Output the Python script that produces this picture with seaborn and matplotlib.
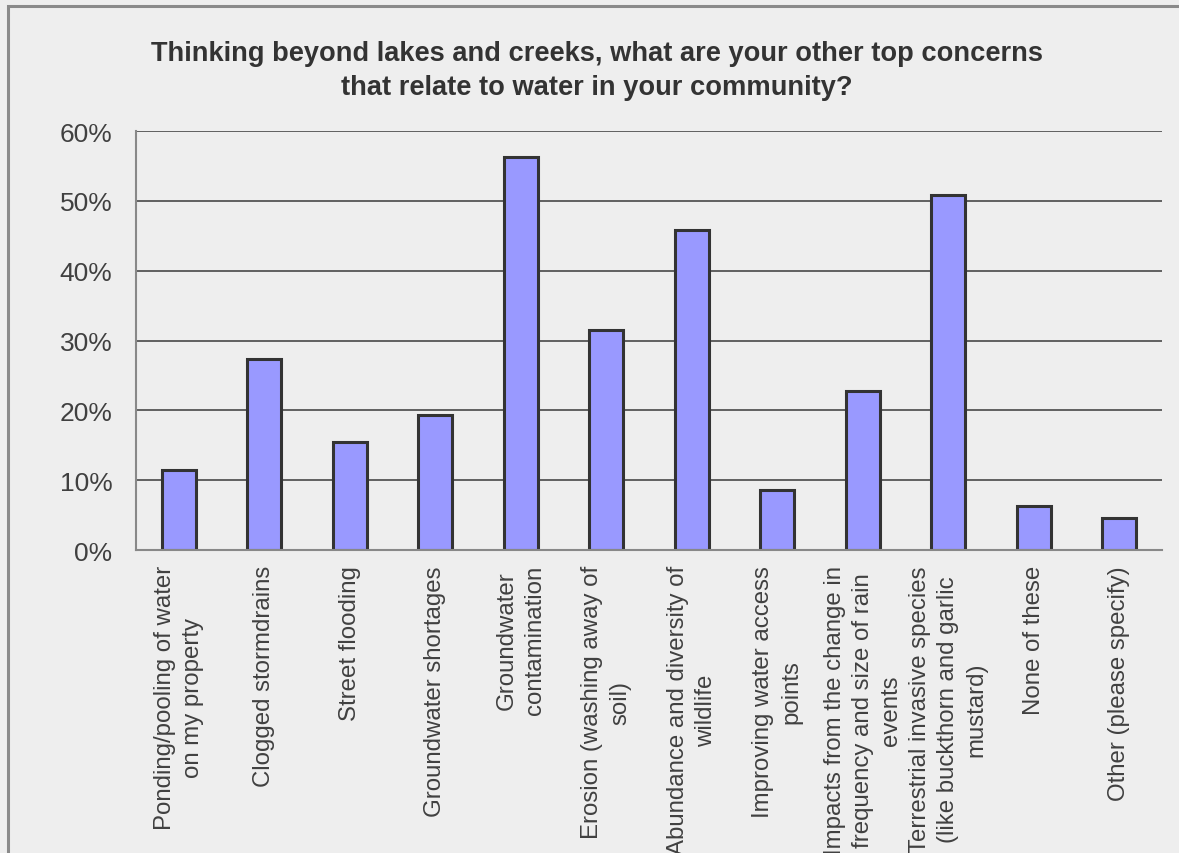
import pandas as pd
import seaborn as sns
import matplotlib.pyplot as plt
from matplotlib.patches import Rectangle
from matplotlib.ticker import FuncFormatter, FixedLocator
from matplotlib.transforms import blended_transform_factory

categories = [
    "Ponding/pooling of water\non my property",
    "Clogged stormdrains",
    "Street flooding",
    "Groundwater shortages",
    "Groundwater\ncontamination",
    "Erosion (washing away of\nsoil)",
    "Abundance and diversity of\nwildlife",
    "Improving water access\npoints",
    "Impacts from the change in\nfrequency and size of rain\nevents",
    "Terrestrial invasive species\n(like buckthorn and garlic\nmustard)",
    "None of these",
    "Other (please specify)",
]
percent = [11.4, 27.4, 15.5, 19.4, 56.3, 31.5, 45.8, 8.6, 22.8, 50.9, 6.3, 4.6]
yticks = [0, 10, 20, 30, 40, 50, 60]

title = ("Thinking beyond lakes and creeks, what are your other top concerns\n"
         "that relate to water in your community?")

df = pd.DataFrame({"concern": categories, "pct": percent})

sns.set_style("white")
plt.rcParams["font.family"] = ["Liberation Sans", "DejaVu Sans"]

bg = "#eeeeee"
fig = plt.figure(figsize=(11.79, 8.54), dpi=100, facecolor=bg)
ax = fig.add_axes([0.1153, 0.3548, 0.8703, 0.4906])
ax.set_facecolor(bg)

sns.barplot(data=df, x="concern", y="pct", color="#9999ff", saturation=1,
            edgecolor="#333333", linewidth=2.2, width=0.4, ax=ax)

ax.set_ylim(0, 60)
ax.set_xlim(-0.5, len(categories) - 0.5)
ax.set_yticks(yticks)
ax.yaxis.set_major_formatter(FuncFormatter(lambda v, p: f"{v:.0f}%"))
ax.grid(axis="y", color="#555555", linewidth=1.3)
ax.set_axisbelow(True)

for side in ["top", "right"]:
    ax.spines[side].set_visible(False)
for side in ["left", "bottom"]:
    ax.spines[side].set_color("#888888")
    ax.spines[side].set_linewidth(1.5)

ax.xaxis.set_minor_locator(FixedLocator([i - 0.5 for i in range(len(categories) + 1)]))
ax.tick_params(axis="x", which="major", length=0, labelbottom=False)
ax.tick_params(axis="x", which="minor", length=7, width=1.3, color="#888888", direction="out")
ax.tick_params(axis="y", length=7, width=1.3, color="#888888", direction="out",
               labelsize=19, labelcolor="#404040", pad=10)
ax.set_xlabel("")
ax.set_ylabel("")

# category labels drawn as text so the wrapped lines stay centred
trans = blended_transform_factory(ax.transData, ax.transAxes)
for i, cat in enumerate(categories):
    ax.text(i, -0.036, cat, transform=trans, rotation=90, ha="center", va="top",
            multialignment="center", fontsize=17.3, color="#404040",
            linespacing=1.36, clip_on=False)

fig.text(0.506, 0.952, title, ha="center", va="top", fontsize=19.6,
         fontweight="bold", color="#333333", linespacing=1.4)

fig.add_artist(Rectangle((8 / 1179, -0.1), 1.2, (854 - 7) / 854 + 0.1,
                         transform=fig.transFigure, fill=False,
                         edgecolor="#8a8a8a", linewidth=2.2, clip_on=False))

fig.savefig("out.png", dpi=100, facecolor=bg)
